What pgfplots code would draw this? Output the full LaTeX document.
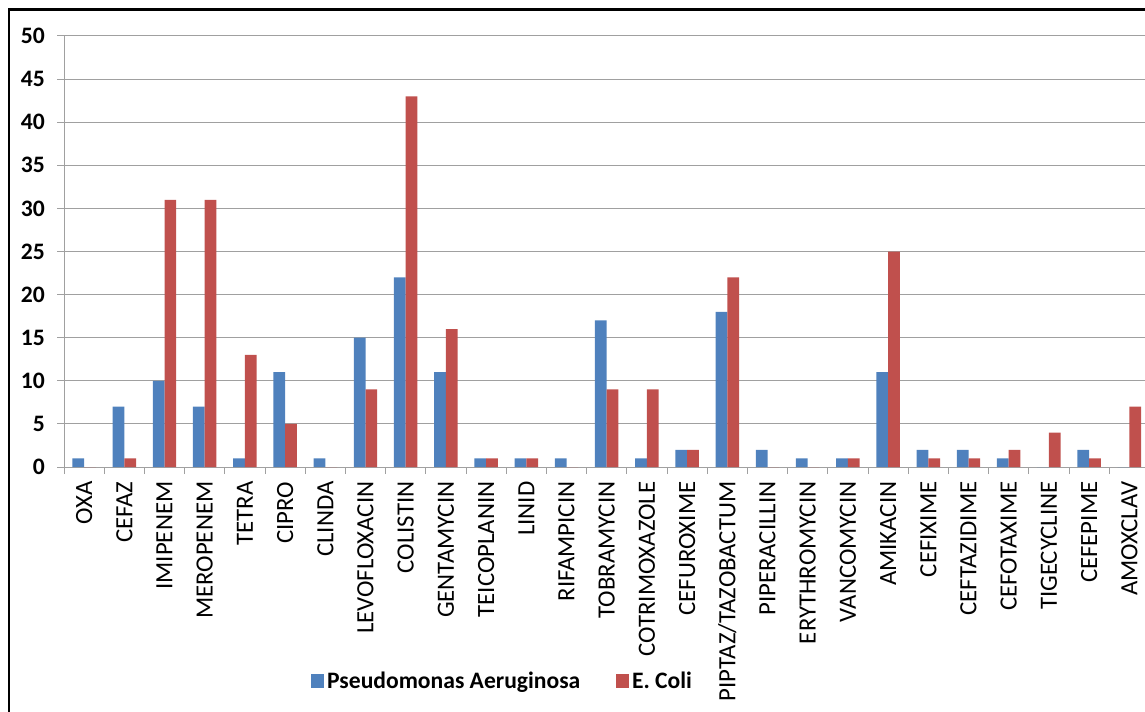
\documentclass[border=0pt]{standalone}
\usepackage{fontspec}
\setmainfont{Carlito}
\usepackage{pgfplots}
\pgfplotsset{compat=1.18}
\usepackage{pgfplotstable}

\definecolor{pablue}{HTML}{4F81BD}
\definecolor{ecred}{HTML}{C0504D}
\definecolor{gridgray}{HTML}{A0A0A0}

% Resistant isolates per antibiotic
\pgfplotstableread{
idx P E
0 1 0
1 7 1
2 10 31
3 7 31
4 1 13
5 11 5
6 1 0
7 15 9
8 22 43
9 11 16
10 1 1
11 1 1
12 1 0
13 17 9
14 1 9
15 2 2
16 18 22
17 2 0
18 1 0
19 1 1
20 11 25
21 2 1
22 2 1
23 1 2
24 0 4
25 2 1
26 0 7
}\resdata

\newcommand{\labfont}{\fontsize{17.7}{20}\selectfont}
\newcommand{\catfont}{\fontsize{18.6}{21}\selectfont}

\begin{document}
\begin{tikzpicture}[x=0.75pt,y=0.75pt]
\useasboundingbox (0,0) rectangle (1145,711);
\begin{axis}[
  scale only axis,
  width=814.05pt, height=323.25pt,
  at={(48pt,183pt)}, anchor=south west,
  xmin=-0.5, xmax=26.5, ymin=0, ymax=50,
  axis x line*=bottom, axis y line*=left,
  axis line style={draw=gridgray, line width=0.75pt, -},
  ytick={0,5,...,50},
  ymajorgrids,
  grid style={draw=gridgray, line width=0.75pt},
  tick align=outside,
  major tick length=5.25pt,
  minor tick length=5.25pt,
  tick style={draw=gridgray, line width=0.75pt},
  major x tick style={draw=none},
  xtick={0,...,26},
  minor xtick={-0.5,0.5,...,26.5},
  xticklabels={OXA,CEFAZ,IMIPENEM,MEROPENEM,TETRA,CIPRO,CLINDA,LEVOFLOXACIN,COLISTIN,GENTAMYCIN,TEICOPLANIN,LINID,RIFAMPICIN,TOBRAMYCIN,COTRIMOXAZOLE,CEFUROXIME,PIPTAZ/TAZOBACTUM,PIPERACILLIN,ERYTHROMYCIN,VANCOMYCIN,AMIKACIN,CEFIXIME,CEFTAZIDIME,CEFOTAXIME,TIGECYCLINE,CEFEPIME,AMOXCLAV},
  x tick label style={rotate=90, anchor=east, font=\catfont, inner ysep=0pt, inner xsep=5.5pt},
  y tick label style={font=\bfseries\labfont, anchor=east, inner sep=0pt, xshift=-9pt},
  yticklabel={\pgfmathprintnumber[assume math mode=true]{\tick}},
  ybar=0pt,
  bar width=8.8pt,
  legend style={at={(0.4045,-0.4965)}, anchor=center, draw=none, fill=none,
    legend columns=2, font=\bfseries\labfont,
    /tikz/every even column/.append style={column sep=25pt}},
  legend image code/.code={\fill[#1] (0pt,-4.9pt) rectangle (9.75pt,4.9pt);},
]
\addplot[fill=pablue, draw=none] table[x=idx, y=P] {\resdata};
\addplot[fill=ecred, draw=none] table[x=idx, y=E] {\resdata};
\legend{Pseudomonas Aeruginosa, E. Coli}
\end{axis}
% outer chart frame
\draw[line width=1.7pt] (8.7,-5) -- (8.7,701.5) -- (1155,701.5);
\end{tikzpicture}
\end{document}
